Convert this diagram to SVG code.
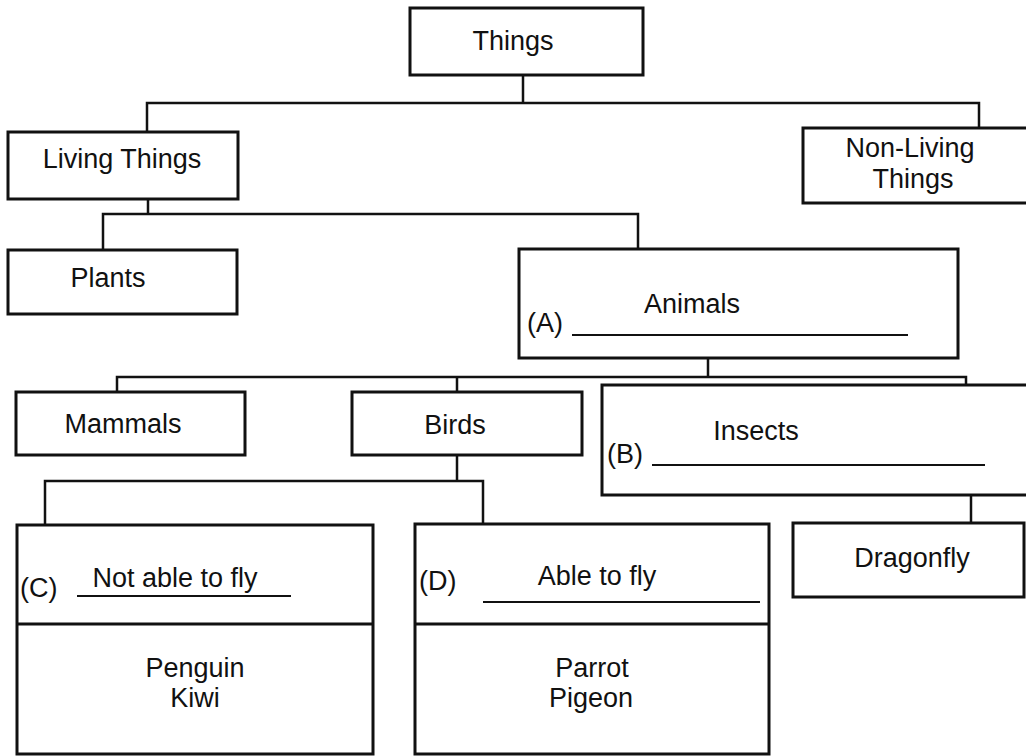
<svg xmlns="http://www.w3.org/2000/svg" width="1026" height="756" viewBox="0 0 1026 756">
<style>
.box{fill:none;stroke:#111;stroke-width:3}
.conn{fill:none;stroke:#111;stroke-width:2.5}
.ul{fill:none;stroke:#111;stroke-width:2}
text{font-family:"Liberation Sans",Arial,sans-serif;font-size:27px;fill:#111}
.c{text-anchor:middle}
</style>
<rect width="1026" height="756" fill="#fff"/>
<g id="connectors">
<path class="conn" d="M523,75V103M147,132V103H979V128"/>
<path class="conn" d="M148,199V214M103,250V214H638V249"/>
<path class="conn" d="M708,358V377M117,392V377H966V385M457,377V392"/>
<path class="conn" d="M457,455V481M45,525V481H483V524"/>
<path class="conn" d="M971,495V523"/>
</g>
<g id="things">
<rect class="box" x="410" y="8" width="233" height="67"/>
<text class="c" x="513" y="50">Things</text>
</g>
<g id="living">
<rect class="box" x="8" y="132" width="230" height="67"/>
<text class="c" x="122" y="168">Living Things</text>
</g>
<g id="nonliving">
<rect class="box" x="803" y="128" width="240" height="75"/>
<text class="c" x="910" y="157">Non-Living</text>
<text class="c" x="913" y="188">Things</text>
</g>
<g id="plants">
<rect class="box" x="8" y="250" width="229" height="64"/>
<text class="c" x="108" y="287">Plants</text>
</g>
<g id="animals">
<rect class="box" x="519" y="249" width="439" height="109"/>
<text class="c" x="692" y="313">Animals</text>
<text x="527" y="332">(A)</text>
<line class="ul" x1="572" y1="335" x2="908" y2="335"/>
</g>
<g id="mammals">
<rect class="box" x="16" y="392" width="229" height="63"/>
<text class="c" x="123" y="433">Mammals</text>
</g>
<g id="birds">
<rect class="box" x="352" y="392" width="230" height="63"/>
<text class="c" x="455" y="434">Birds</text>
</g>
<g id="insects">
<rect class="box" x="602" y="385" width="440" height="110"/>
<text class="c" x="756" y="440">Insects</text>
<text x="607" y="463">(B)</text>
<line class="ul" x1="652" y1="465" x2="985" y2="465"/>
</g>
<g id="notfly">
<rect class="box" x="17" y="525" width="356" height="229"/>
<line class="box" x1="17" y1="624" x2="373" y2="624"/>
<text x="20" y="597">(C)</text>
<text class="c" x="175" y="587">Not able to fly</text>
<line class="ul" x1="77" y1="596" x2="291" y2="596"/>
<text class="c" x="195" y="677">Penguin</text>
<text class="c" x="195" y="707">Kiwi</text>
</g>
<g id="fly">
<rect class="box" x="415" y="524" width="354" height="230"/>
<line class="box" x1="415" y1="624" x2="769" y2="624"/>
<text x="419" y="590">(D)</text>
<text class="c" x="597" y="585">Able to fly</text>
<line class="ul" x1="483" y1="602" x2="760" y2="602"/>
<text class="c" x="592" y="677">Parrot</text>
<text class="c" x="591" y="707">Pigeon</text>
</g>
<g id="dragonfly">
<rect class="box" x="793" y="523" width="231" height="74"/>
<text class="c" x="912" y="567">Dragonfly</text>
</g>
</svg>
